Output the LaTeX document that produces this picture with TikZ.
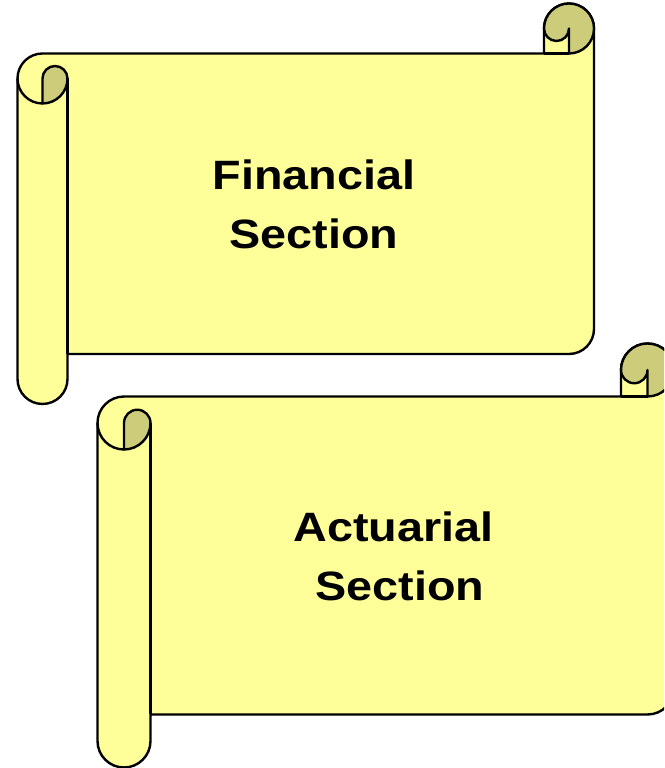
\documentclass[tikz,border=0pt]{standalone}
\usepackage{fontspec}
\usepackage{tikz}
\newfontfamily\scrollfont[FakeStretch=1.14]{Liberation Sans}
\definecolor{paper}{HTML}{FFFF99}
\definecolor{curl}{HTML}{CCCC7A}
\tikzset{
  scrolledge/.style={ draw=black, line width=2.4pt, line join=round }
}
\tikzset{
  scrollpaper/.style={ scrolledge, fill=paper }
}
\tikzset{
  scrollcurl/.style={ scrolledge, fill=curl }
}
\tikzset{
  scrolltext/.style={ align=center, inner sep=0pt,
    font={\scrollfont\bfseries\fontsize{41pt}{59pt}\selectfont} }
}
% horizontal scroll: #1,#2 lower left, #3,#4 upper right, #5 size of the rolls
\newcommand\drawscroll[5]{%
  \pgfmathsetmacro\sh{#5/2}
  \pgfmathsetmacro\sq{#5/4}
  % sheet with both rolls
  \path[scrollpaper] (#1,#4-1.5*#5) -- (#1,#2+\sh)
    arc[start angle=180, end angle=360, radius=\sh] -- (#1+#5,#2+#5)
    -- (#3-\sh,#2+#5) arc[start angle=270, end angle=360, radius=\sh]
    -- (#3,#4-\sh) arc[start angle=0, end angle=180, radius=\sh]
    -- (#3-#5,#4-#5) -- (#1+\sh,#4-#5)
    arc[start angle=90, end angle=180, radius=\sh] -- cycle;
  % rolled up ends
  \path[scrollcurl] (#3-#5,#4-\sh) arc[start angle=180, end angle=-90, radius=\sh]
    -- (#3-\sh,#4-\sh) arc[start angle=0, end angle=-180, radius=\sq] -- cycle;
  \path[scrollcurl] (#1+\sh,#4-2*#5) arc[start angle=270, end angle=360, radius=\sh]
    arc[start angle=0, end angle=180, radius=\sq] -- cycle;
  % remaining edges
  \path[scrolledge] (#1,#4-1.5*#5) arc[start angle=180, end angle=270, radius=\sh];
  \path[scrolledge] (#1+#5,#4-1.5*#5) -- (#1+#5,#2+#5);
  \path[scrolledge] (#3-#5,#4-#5) -- (#3-\sh,#4-#5);
}

\begin{document}
\begin{tikzpicture}[x=1pt, y=1pt]
  \useasboundingbox (0,0) rectangle (664,768);
  \clip (0,0) rectangle (664,768);

  \drawscroll{17.5}{364}{594}{764.5}{50}
  \node[scrolltext] (financial) at (314,563.5) {Financial\\Section};

  \drawscroll{97.5}{0.5}{674}{424.5}{53}
  \node[scrolltext] (actuarial) at (393.5,212) {Actuarial\\\ Section};
\end{tikzpicture}
\end{document}
